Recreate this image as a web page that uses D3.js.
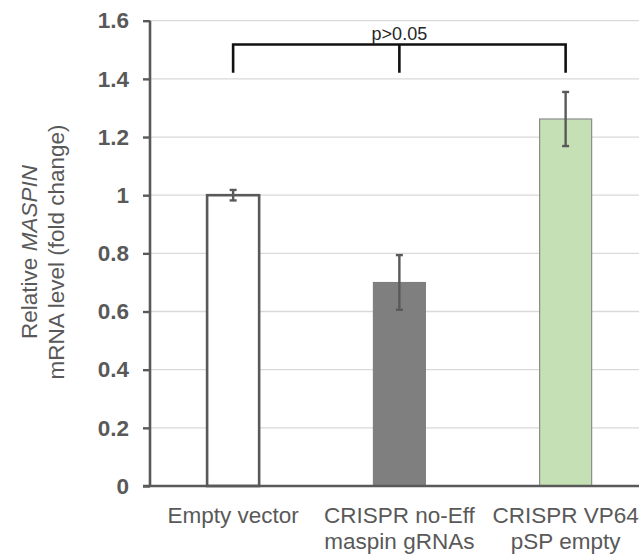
<!DOCTYPE html>
<html>
<head>
<meta charset="utf-8">
<script src="https://cdn.jsdelivr.net/npm/d3@7"></script>
<style>
  html, body { margin: 0; padding: 0; background: #fff; }
  svg { display: block; font-family: "Liberation Sans", Arial, sans-serif; }
</style>
</head>
<body>
<svg id="chart" width="639" height="556"></svg>
<script>
// values
var groups = ["Empty vector", "CRISPR no-Eff", "CRISPR VP64"];
var groupLines = [["Empty vector"], ["CRISPR no-Eff", "maspin gRNAs"], ["CRISPR VP64", "pSP empty"]];
var means = [1.0, 0.70, 1.262];
var errors = [0.018, 0.094, 0.093];
var fills = ["#ffffff", "#7f7f7f", "#c5e0b4"];
var strokes = ["#595959", "#7a7a7a", "#8c8c8c"];
var strokeWidths = [2.6, 1, 1.2];
var yTicks = [0, 0.2, 0.4, 0.6, 0.8, 1.0, 1.2, 1.4, 1.6];
var bracketLevels = [1.421, 1.518]; // leg bottom, bar top
var pLabel = "p>0.05";

var W = 639, H = 556;
var svg = d3.select("#chart");

var plotLeft = 150, plotTop = 20.7, plotBottom = 486;

var x = d3.scaleBand()
    .domain(groups)
    .range([plotLeft, plotLeft + 3 * 166.25])
    .paddingInner(0.687)
    .paddingOuter(0.3435);

var y = d3.scaleLinear().domain([0, 1.6]).range([plotBottom, plotTop]);

var cx = function(i) { return x(groups[i]) + x.bandwidth() / 2; };

// gridlines
svg.append("g")
    .selectAll("line")
    .data(yTicks.filter(function(d) { return d > 0; }))
    .enter()
    .append("line")
    .attr("x1", plotLeft)
    .attr("x2", W)
    .attr("y1", function(d) { return y(d); })
    .attr("y2", function(d) { return y(d); })
    .style("stroke", "#d9d9d9")
    .style("stroke-width", 1.3);

// bars
svg.append("g")
    .selectAll("rect")
    .data(means)
    .enter()
    .append("rect")
    .attr("x", function(d, i) { return x(groups[i]); })
    .attr("width", x.bandwidth())
    .attr("y", function(d) { return y(d); })
    .attr("height", function(d) { return plotBottom - y(d); })
    .style("fill", function(d, i) { return fills[i]; })
    .style("stroke", function(d, i) { return strokes[i]; })
    .style("stroke-width", function(d, i) { return strokeWidths[i]; });

// error bars
var eb = svg.append("g")
    .selectAll("g")
    .data(means)
    .enter()
    .append("g")
    .style("stroke", "#595959")
    .style("stroke-width", 2.4);

eb.append("line")
    .attr("x1", function(d, i) { return cx(i); })
    .attr("x2", function(d, i) { return cx(i); })
    .attr("y1", function(d, i) { return y(d - errors[i]); })
    .attr("y2", function(d, i) { return y(d + errors[i]); });

[-1, 1].forEach(function(s) {
    eb.append("line")
        .attr("x1", function(d, i) { return cx(i) - 3.5; })
        .attr("x2", function(d, i) { return cx(i) + 3.5; })
        .attr("y1", function(d, i) { return y(d + s * errors[i]); })
        .attr("y2", function(d, i) { return y(d + s * errors[i]); });
});

// y axis
var yAxis = d3.axisLeft(y)
    .tickValues(yTicks)
    .tickSize(7)
    .tickPadding(14)
    .tickFormat(function(d) { return String(+d.toFixed(1)); });

var ya = svg.append("g")
    .attr("transform", "translate(" + plotLeft + ",0)")
    .call(yAxis);
ya.select(".domain").remove();
ya.selectAll(".tick line").style("stroke", "#595959").style("stroke-width", 2.4);
ya.selectAll(".tick text")
    .style("fill", "#595959")
    .style("font-size", "22.5px")
    .style("font-weight", "bold");

// axis lines
svg.append("line")
    .attr("x1", plotLeft).attr("x2", plotLeft)
    .attr("y1", plotTop).attr("y2", plotBottom)
    .style("stroke", "#595959").style("stroke-width", 2.6);
svg.append("line")
    .attr("x1", plotLeft - 7).attr("x2", W)
    .attr("y1", plotBottom).attr("y2", plotBottom)
    .style("stroke", "#595959").style("stroke-width", 2.6);

// x labels
var xl = svg.append("g")
    .selectAll("text")
    .data(groupLines)
    .enter()
    .append("text")
    .attr("text-anchor", "middle")
    .style("fill", "#595959")
    .style("font-size", "22.5px");
xl.each(function(lines, i) {
    var t = d3.select(this);
    lines.forEach(function(s, k) {
        t.append("tspan")
            .attr("x", cx(i))
            .attr("y", 523 + k * 26)
            .text(s);
    });
});

// y title
var title = svg.append("text")
    .attr("transform", "translate(0,252) rotate(-90)")
    .attr("text-anchor", "middle")
    .style("fill", "#595959")
    .style("font-size", "22.5px");
var t1 = title.append("tspan").attr("x", 0).attr("y", 37);
t1.append("tspan").text("Relative ");
t1.append("tspan").style("font-style", "italic").text("MASPIN");
title.append("tspan").attr("x", 0).attr("y", 64).text("mRNA level (fold change)");

// significance bracket
var yb = y(bracketLevels[0]), yt = y(bracketLevels[1]);
var bracket = d3.path();
bracket.moveTo(cx(0), yb);
bracket.lineTo(cx(0), yt);
bracket.lineTo(cx(2), yt);
bracket.lineTo(cx(2), yb);
bracket.moveTo(cx(1), yt);
bracket.lineTo(cx(1), yb);
svg.append("path")
    .attr("d", bracket.toString())
    .style("fill", "none")
    .style("stroke", "#111")
    .style("stroke-width", 2.6);

svg.append("text")
    .attr("x", cx(1))
    .attr("y", yt - 5)
    .attr("text-anchor", "middle")
    .style("fill", "#262626")
    .style("font-size", "18px")
    .text(pLabel);
</script>
</body>
</html>
